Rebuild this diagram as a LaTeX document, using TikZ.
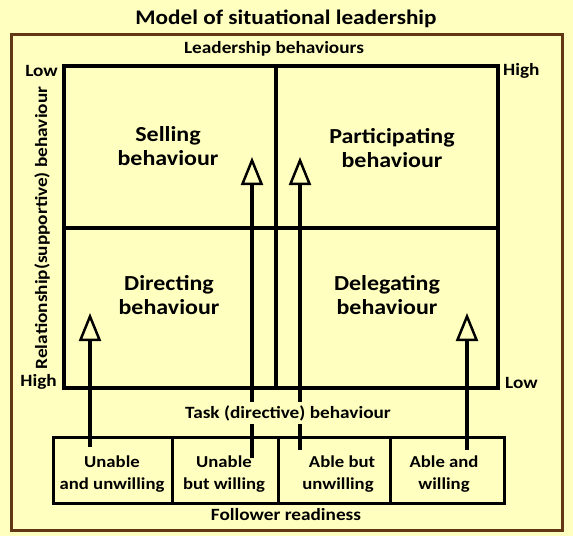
\documentclass[tikz,border=0pt]{standalone}
\usepackage{fontspec}
\setmainfont{Carlito}[FakeStretch=1.12]
\usetikzlibrary{arrows.meta}
\definecolor{bg}{RGB}{255,255,192}
\definecolor{framecol}{RGB}{96,56,20}
\begin{document}
\begin{tikzpicture}[x=1pt,y=-1pt,
  lbl/.style={font=\bfseries\fontsize{17.2}{19}\selectfont, inner sep=1pt, text=black},
  quad/.style={font=\bfseries\fontsize{21.4}{24}\selectfont, align=center, inner sep=0pt},
  cell/.style={draw, line width=3pt, minimum width=#1, minimum height=66pt, inner sep=0pt},
  celltext/.style={font=\bfseries\fontsize{16.7}{21.5}\selectfont, align=center, inner sep=0pt},
  qbox/.style={draw, line width=4pt, inner sep=0pt},
  up/.style={line width=4pt, -{Triangle[open, length=28pt, width=22pt, line width=2.5pt]}}
]
\fill[bg] (0,0) rectangle (573,536);
\useasboundingbox (0,0) rectangle (573,536);
\draw[framecol, line width=3pt] (11,34) rectangle (562,530);

\node[font=\bfseries\fontsize{20.7}{24}\selectfont] (title) at (286,19) {Model of situational leadership};
\node[lbl] (lead) at (274,49) {Leadership behaviours};

% quadrants
\node[qbox, minimum width=212pt, minimum height=162pt] (q1) at (170,147) {};
\node[qbox, minimum width=222pt, minimum height=162pt] (q2) at (387,147) {};
\node[qbox, minimum width=212pt, minimum height=160pt] (q3) at (170,308) {};
\node[qbox, minimum width=222pt, minimum height=160pt] (q4) at (387,308) {};

\node[quad] (selling) at (168,146) {Selling\\behaviour};
\node[quad] (particip) at (392,148) {Participating\\behaviour};
\node[quad] (directing) at (169,295) {Directing\\behaviour};
\node[quad] (delegating) at (387,295) {Delegating\\behaviour};

\node[lbl, anchor=east] (low1) at (59,71) {Low};
\node[lbl, anchor=west] (high1) at (502,71) {High};
\node[lbl, anchor=east] (high2) at (58,382) {High};
\node[lbl, anchor=west] (low2) at (504,383) {Low};
\node[lbl, rotate=90] (rel) at (42,228) {Relationship(supportive) behaviour};

% follower readiness cells
\node[cell=119pt] (c1) at (112.5,470) {};
\node[cell=106pt] (c2) at (225,470) {};
\node[cell=112pt] (c3) at (334,470) {};
\node[cell=114pt] (c4) at (447,470) {};
\node[celltext] (c1t) at (112,474) {Unable\\and unwilling};
\node[celltext] (c2t) at (224,474) {Unable\\but willing};
\node[celltext] (c3t) at (338,474) {\hspace*{8pt}Able but\\unwilling};
\node[celltext] (c4t) at (444,474) {Able and\\willing};

\coordinate (s1) at (90,447);
\coordinate (t1) at (90,313);
\coordinate (s2) at (252,458);
\coordinate (t2) at (252,157);
\coordinate (s3) at (300,450);
\coordinate (t3) at (300,157);
\coordinate (s4) at (467,450);
\coordinate (t4) at (467,313);
\draw[up] (s1) -- (t1);
\draw[up] (s2) -- (t2);
\draw[up] (s3) -- (t3);
\draw[up] (s4) -- (t4);

\node[lbl, fill=bg, inner sep=3pt] (task) at (288,413) {Task (directive) behaviour};
\node[lbl] (follower) at (286,515) {Follower readiness};
\end{tikzpicture}
\end{document}
